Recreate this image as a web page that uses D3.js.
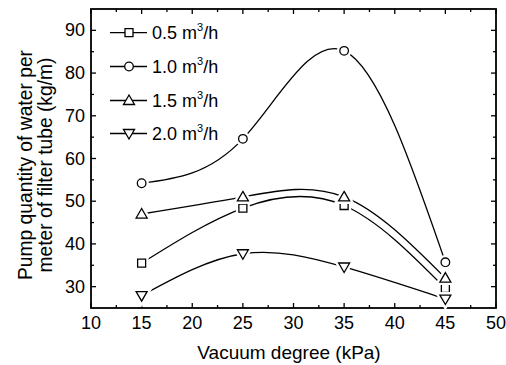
<!DOCTYPE html>
<html><head><meta charset="utf-8">
<script src="https://cdn.jsdelivr.net/npm/d3@7"></script>
<style>body{margin:0;background:#fff}svg{display:block}text{font-family:"Liberation Sans",Arial,sans-serif;fill:#000}</style>
</head><body><svg id="c" width="506" height="365"></svg>
<script>
const vacuum = [15, 25, 35, 45];
const seriesNames = ["0.5", "1.0", "1.5", "2.0"];
const s05 = [35.5, 48.4, 49.0, 29.6];
const s10 = [54.2, 64.6, 85.2, 35.7];
const s15 = [47.0, 51.0, 51.0, 32.0];
const s20 = [27.9, 37.7, 34.6, 27.1];
const symbols = ["square", "circle", "triangle", "triangleDown"];
const xTicks = [10, 15, 20, 25, 30, 35, 40, 45, 50];
const yTicks = [30, 40, 50, 60, 70, 80, 90];

const allSeries = [s05, s10, s15, s20];
const svg = d3.select("#c");
const L = 91, R = 496, T = 9, B = 308;
const x = d3.scaleLinear().domain([10, 50]).range([L, R]);
const y = d3.scaleLinear().domain([25, 95]).range([B, T]);

// frame
svg.append("rect").attr("x", L).attr("y", T).attr("width", R - L).attr("height", B - T)
  .attr("fill", "none").attr("stroke", "#000").attr("stroke-width", 1.8);

// ticks
const xMinor = d3.range(12.5, 50, 5);
const yMinor = d3.range(35, 95, 10);
function tk(x1, y1, x2, y2) {
  svg.append("line").attr("x1", x1).attr("y1", y1).attr("x2", x2).attr("y2", y2)
    .attr("stroke", "#000").attr("stroke-width", 1.3);
}
xTicks.forEach(v => { tk(x(v), B, x(v), B - 5); tk(x(v), T, x(v), T + 5); });
xMinor.forEach(v => { tk(x(v), B, x(v), B - 3); tk(x(v), T, x(v), T + 3); });
yTicks.forEach(v => { tk(L, y(v), L + 5, y(v)); tk(R, y(v), R - 5, y(v)); });
yMinor.forEach(v => { tk(L, y(v), L + 3, y(v)); tk(R, y(v), R - 3, y(v)); });

// tick labels
xTicks.forEach(v => svg.append("text").attr("x", x(v)).attr("y", 329).attr("text-anchor", "middle")
  .attr("font-size", 18).text(v));
yTicks.forEach(v => svg.append("text").attr("x", 85).attr("y", y(v) + 6).attr("text-anchor", "end")
  .attr("font-size", 18).text(v));

// axis titles
svg.append("text").attr("x", 289).attr("y", 359).attr("text-anchor", "middle")
  .attr("font-size", 19).text("Vacuum degree (kPa)");
const yl = svg.append("text").attr("transform", "translate(0,165) rotate(-90)")
  .attr("text-anchor", "middle").attr("font-size", 21);
yl.append("tspan").attr("x", 0).attr("y", 32).attr("textLength", 230).attr("lengthAdjust", "spacingAndGlyphs")
  .text("Pump quantity of water per");
yl.append("tspan").attr("x", 0).attr("y", 52).attr("textLength", 215).attr("lengthAdjust", "spacingAndGlyphs")
  .text("meter of filter tube (kg/m)");

function symPath(type) {
  if (type === "square") return "M-4,-4H4V4H-4Z";
  if (type === "circle") return d3.arc()({innerRadius: 0, outerRadius: 4.3, startAngle: 0, endAngle: 2 * Math.PI});
  if (type === "triangle") return "M0,-5.5L5.5,4L-5.5,4Z";
  return "M0,5.5L5.5,-4L-5.5,-4Z";
}
function marker(g, cx, cy, type) {
  g.append("path").attr("d", symPath(type)).attr("transform", `translate(${cx},${cy})`)
    .attr("fill", "#fff").attr("stroke", "#fff").attr("stroke-width", 6);
  g.append("path").attr("d", symPath(type)).attr("transform", `translate(${cx},${cy})`)
    .attr("fill", "#fff").attr("stroke", "#000").attr("stroke-width", 1.3);
}

const line = d3.line().x(d => x(d[0])).y(d => y(d[1])).curve(d3.curveNatural);
const gLines = svg.append("g");
const gMarks = svg.append("g");
allSeries.forEach((s, i) => {
  const pts = vacuum.map((v, j) => [v, s[j]]);
  gLines.append("path").attr("d", line(pts)).attr("fill", "none").attr("stroke", "#000").attr("stroke-width", 1.3);
});
allSeries.forEach((s, i) => {
  vacuum.forEach((v, j) => marker(gMarks, x(v), y(s[j]), symbols[i]));
});

// legend
const leg = svg.append("g");
const rowY = [32.7, 66.5, 100.5, 133.5];
seriesNames.forEach((n, i) => {
  leg.append("line").attr("x1", 110).attr("x2", 147).attr("y1", rowY[i]).attr("y2", rowY[i])
    .attr("stroke", "#000").attr("stroke-width", 1.3);
  leg.append("path").attr("d", symPath(symbols[i])).attr("transform", `translate(129,${rowY[i]})`)
    .attr("fill", "#fff").attr("stroke", "#000").attr("stroke-width", 1.3);
  const t = leg.append("text").attr("x", 152).attr("y", rowY[i] + 6.5).attr("font-size", 18);
  t.append("tspan").text(n + " m");
  t.append("tspan").attr("font-size", 11).attr("dy", -8).text("3");
  t.append("tspan").attr("dy", 8).text("/h");
});
</script></body></html>
